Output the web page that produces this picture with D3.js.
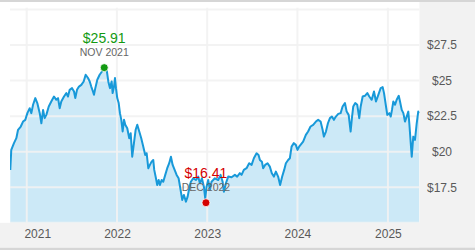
<!DOCTYPE html>
<html>
<head>
<meta charset="utf-8">
<script src="https://cdn.jsdelivr.net/npm/d3@7"></script>
<style>
  html, body { margin: 0; padding: 0; background: #fff; }
  svg { display: block; font-family: "Segoe UI", "Liberation Sans", Arial, sans-serif; }
</style>
</head>
<body>
<div id="chart"></div>
<script>
// Price history (dates as decimal years)
const years = [
  2020.818, 2020.829, 2020.859, 2020.885, 2020.904, 2020.934, 2020.959, 2020.984,
  2021.007, 2021.033, 2021.051, 2021.070, 2021.095, 2021.117, 2021.144, 2021.162,
  2021.181, 2021.199, 2021.217, 2021.244, 2021.272, 2021.302, 2021.328, 2021.347,
  2021.365, 2021.383, 2021.413, 2021.439, 2021.457, 2021.476, 2021.502, 2021.524,
  2021.538, 2021.557, 2021.579, 2021.605, 2021.631, 2021.653, 2021.679, 2021.698,
  2021.715, 2021.734, 2021.745, 2021.760, 2021.782, 2021.808, 2021.834, 2021.859,
  2021.886, 2021.904, 2021.922, 2021.941, 2021.952, 2021.967, 2021.978, 2021.989,
  2022.003, 2022.019, 2022.033, 2022.048, 2022.063, 2022.078, 2022.092, 2022.114,
  2022.136, 2022.152, 2022.169, 2022.188, 2022.207, 2022.225, 2022.247, 2022.269,
  2022.291, 2022.313, 2022.329, 2022.347, 2022.365, 2022.384, 2022.402, 2022.413,
  2022.432, 2022.446, 2022.462, 2022.476, 2022.495, 2022.513, 2022.535, 2022.557,
  2022.579, 2022.598, 2022.617, 2022.639, 2022.661, 2022.683, 2022.705, 2022.723,
  2022.742, 2022.764, 2022.783, 2022.801, 2022.819, 2022.845, 2022.875, 2022.900,
  2022.919, 2022.941, 2022.963, 2022.978, 2022.993, 2023.011, 2023.030, 2023.048,
  2023.085, 2023.122, 2023.148, 2023.171, 2023.185, 2023.207, 2023.233, 2023.270,
  2023.307, 2023.332, 2023.362, 2023.381, 2023.406, 2023.436, 2023.465, 2023.492,
  2023.517, 2023.547, 2023.569, 2023.584, 2023.606, 2023.620, 2023.642, 2023.669,
  2023.694, 2023.716, 2023.739, 2023.761, 2023.786, 2023.808, 2023.831, 2023.853,
  2023.872, 2023.897, 2023.916, 2023.935, 2023.960, 2023.982, 2024.001, 2024.019,
  2024.063, 2024.093, 2024.118, 2024.145, 2024.174, 2024.204, 2024.229, 2024.256,
  2024.278, 2024.292, 2024.315, 2024.337, 2024.359, 2024.381, 2024.403, 2024.425,
  2024.451, 2024.477, 2024.499, 2024.525, 2024.544, 2024.566, 2024.588, 2024.602,
  2024.617, 2024.639, 2024.661, 2024.683, 2024.699, 2024.721, 2024.746, 2024.772,
  2024.794, 2024.821, 2024.846, 2024.868, 2024.894, 2024.920, 2024.942, 2024.957,
  2024.979, 2024.993, 2025.016, 2025.031, 2025.045, 2025.060, 2025.079, 2025.097,
  2025.120, 2025.134, 2025.153, 2025.171, 2025.189, 2025.208, 2025.226, 2025.237,
  2025.253, 2025.264, 2025.281, 2025.300, 2025.319, 2025.336, 2025.347
];
const prices = [
  18.72, 20.13, 20.60, 20.95, 21.54, 21.77, 22.12, 22.24,
  22.71, 23.06, 22.71, 23.30, 23.77, 23.42, 22.71, 22.00,
  22.94, 22.36, 22.59, 23.18, 23.53, 23.88, 23.65, 23.77,
  23.06, 23.53, 23.88, 24.12, 23.88, 24.35, 24.47, 24.23,
  23.77, 24.35, 24.58, 24.70, 24.94, 25.41, 25.18, 24.94,
  24.58, 24.23, 24.00, 24.47, 25.06, 25.41, 25.64, 25.91,
  25.76, 24.94, 24.47, 24.94, 24.12, 24.58, 25.18, 24.47,
  23.77, 23.42, 22.71, 22.24, 21.42, 22.24, 21.89, 21.65,
  20.95, 21.30, 19.65, 20.60, 21.54, 21.89, 21.42, 20.95,
  20.36, 19.77, 19.89, 18.84, 19.07, 19.30, 19.42, 18.72,
  18.13, 17.66, 18.01, 17.66, 18.01, 17.89, 18.37, 18.84,
  19.19, 19.65, 19.07, 18.72, 18.37, 18.13, 17.31, 16.61,
  16.96, 16.49, 16.84, 17.43, 17.89, 18.13, 18.01, 18.25,
  17.78, 18.13, 17.54, 16.72, 17.54, 18.01, 17.31, 17.89,
  18.13, 18.01, 18.37, 17.89, 17.19, 17.78, 18.25, 18.20,
  18.37, 18.25, 18.49, 18.37, 18.72, 18.84, 19.19, 19.07,
  19.54, 19.89, 19.77, 19.42, 19.30, 18.84, 19.07, 19.19,
  18.95, 18.49, 18.25, 18.60, 18.25, 17.66, 18.25, 18.72,
  19.19, 19.42, 19.54, 20.36, 20.60, 20.48, 20.13, 20.36,
  20.71, 21.18, 21.42, 21.77, 21.89, 22.12, 22.24, 22.12,
  21.54, 21.06, 21.42, 22.00, 22.36, 22.47, 22.24, 22.47,
  22.66, 22.71, 23.18, 23.42, 22.82, 22.59, 21.42, 22.36,
  23.18, 23.42, 23.30, 22.36, 23.18, 23.88, 23.93, 24.12,
  23.88, 23.65, 24.23, 23.53, 24.00, 24.47, 24.54, 24.12,
  23.18, 22.59, 22.71, 22.47, 22.94, 23.53, 23.30, 23.65,
  23.93, 23.53, 22.94, 22.71, 22.12, 22.47, 22.82, 22.00,
  20.60, 19.65, 21.06, 20.83, 22.00, 22.82, 22.71
];

// Y ticks and x ticks
const priceTicks = [17.5, 20, 22.5, 25, 27.5];
const gridPrices = [15, 17.5, 20, 22.5, 25, 27.5, 30];
const tickYears = [2021, 2022, 2023, 2024, 2025];

// High / low annotations
const markYears = [2021.859, 2022.986];
const markPrices = [25.91, 16.41];
const markLabels = ["NOV 2021", "DEC 2022"];
const markColors = ["#129a12", "#d40000"];

// decimal year -> Date
function toDate(t) {
  const yr = Math.floor(t);
  const a = new Date(yr, 0, 1), b = new Date(yr + 1, 0, 1);
  return new Date(a.getTime() + (t - yr) * (b - a));
}

const data = years.map((t, i) => ({ date: toDate(t), value: prices[i] }));

const W = 475, H = 250;
const plot = { left: 10, right: 419.5, top: 9.5, bottom: 222.8 };

const svg = d3.select("#chart").append("svg")
  .attr("width", W)
  .attr("height", H);

const x = d3.scaleTime()
  .domain([toDate(2020.815), toDate(2025.350)])
  .range([plot.left, plot.right]);

const y = d3.scaleLinear()
  .domain([15, 30])
  .range([plot.bottom, plot.top]);

// frame pieces
svg.append("rect").attr("x", 0).attr("y", 0).attr("width", W).attr("height", 2).attr("fill", "#d6d6d6");
svg.append("rect").attr("x", plot.right).attr("y", 2).attr("width", W - plot.right).attr("height", 246).attr("fill", "#f2f2f2");
svg.append("rect").attr("x", 0).attr("y", plot.bottom).attr("width", W).attr("height", 247.7 - plot.bottom).attr("fill", "#f2f2f2");
svg.append("rect").attr("x", 0).attr("y", 247.7).attr("width", W).attr("height", H - 247.7).attr("fill", "#d6d6d6");

svg.append("clipPath").attr("id", "clip")
  .append("rect")
  .attr("x", plot.left).attr("y", plot.top - 2)
  .attr("width", plot.right - plot.left).attr("height", plot.bottom - plot.top + 2);

const g = svg.append("g").attr("clip-path", "url(#clip)");

// area under the line
const area = d3.area()
  .x(d => x(d.date))
  .y0(y(15))
  .y1(d => y(d.value));

g.append("path")
  .datum(data)
  .attr("d", area)
  .attr("fill", "#cce9f7");

// grid lines over the area
g.selectAll(".hgrid")
  .data(gridPrices)
  .enter().append("line")
  .attr("class", "hgrid")
  .attr("x1", plot.left).attr("x2", plot.right)
  .attr("y1", d => y(d)).attr("y2", d => y(d))
  .attr("stroke", "#f2f2f2")
  .attr("stroke-opacity", 0.9)
  .attr("stroke-width", 2);

g.selectAll(".vgrid")
  .data(tickYears)
  .enter().append("line")
  .attr("class", "vgrid")
  .attr("x1", d => x(new Date(d, 0, 1))).attr("x2", d => x(new Date(d, 0, 1)))
  .attr("y1", plot.top - 2).attr("y2", plot.bottom)
  .attr("stroke", "#f2f2f2")
  .attr("stroke-opacity", 0.9)
  .attr("stroke-width", 2);

// price line
const line = d3.line()
  .x(d => x(d.date))
  .y(d => y(d.value));

g.append("path")
  .datum(data)
  .attr("d", line)
  .attr("fill", "none")
  .attr("stroke", "#1899d9")
  .attr("stroke-width", 2)
  .attr("stroke-linejoin", "round");

// right axis
const yAxis = svg.append("g")
  .attr("transform", `translate(442,0)`)
  .call(d3.axisRight(y).tickValues(priceTicks).tickSize(0).tickPadding(0).tickFormat(d => "$" + d));
yAxis.select(".domain").remove();
yAxis.selectAll("text")
  .attr("text-anchor", "middle")
  .attr("fill", "#595959")
  .style("font-size", "12px")
  .style("font-family", "\"Segoe UI\", \"Liberation Sans\", Arial, sans-serif");

// bottom axis
const xAxis = svg.append("g")
  .attr("transform", `translate(0,${plot.bottom})`)
  .call(d3.axisBottom(x).tickValues(tickYears.map(d => new Date(d, 0, 1))).tickSize(0).tickPadding(7).tickFormat(d3.timeFormat("%Y")));
xAxis.select(".domain").remove();
xAxis.selectAll("text")
  .attr("fill", "#595959")
  .style("font-size", "12px")
  .style("font-family", "\"Segoe UI\", \"Liberation Sans\", Arial, sans-serif");
// first label sits a little to the right
xAxis.select(".tick text").attr("dx", 10.5);

// high / low markers
markYears.forEach((t, i) => {
  const cx = x(toDate(t)), cy = y(markPrices[i]);
  svg.append("text")
    .attr("x", cx).attr("y", cy - 25)
    .attr("text-anchor", "middle")
    .attr("fill", markColors[i])
    .style("font-size", "14px")
    .text("$" + markPrices[i].toFixed(2));
  svg.append("text")
    .attr("x", cx).attr("y", cy - 12)
    .attr("text-anchor", "middle")
    .attr("fill", "#666")
    .style("font-size", "10.5px")
    .text(markLabels[i]);
  svg.append("circle")
    .attr("cx", cx).attr("cy", cy)
    .attr("r", 4)
    .attr("fill", markColors[i])
    .attr("stroke", "#fff")
    .attr("stroke-width", 0.8);
});
</script>
</body>
</html>
